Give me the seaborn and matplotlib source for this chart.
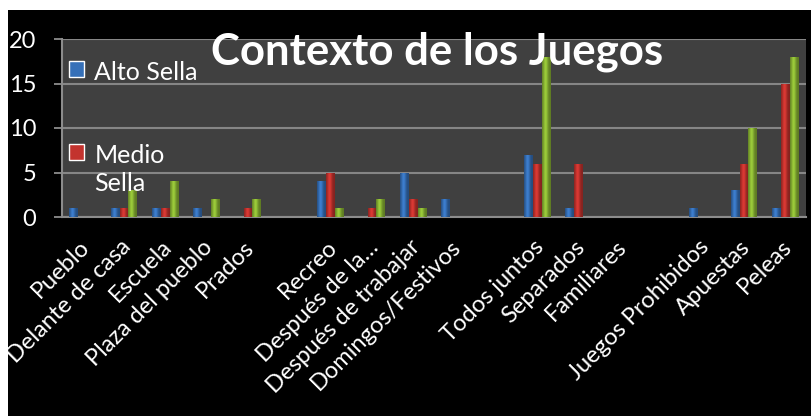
import numpy as np
import pandas as pd
import matplotlib
matplotlib.use("Agg")
import matplotlib.pyplot as plt
from matplotlib.patches import Rectangle
from matplotlib.transforms import ScaledTranslation
import matplotlib.colors as mcolors
import seaborn as sns

categories = ["Pueblo", "Delante de casa", "Escuela", "Plaza del pueblo", "Prados", " ",
              "Recreo", "Después de la…", "Después de trabajar", "Domingos/Festivos", "  ",
              "Todos juntos", "Separados", "Familiares", "   ",
              "Juegos Prohibidos", "Apuestas", "Peleas"]
alto_sella = [1, 1, 1, 1, 0, 0, 4, 0, 5, 2, 0, 7, 1, 0, 0, 1, 3, 1]
medio_sella = [0, 1, 1, 0, 1, 0, 5, 1, 2, 0, 0, 6, 6, 0, 0, 0, 6, 15]
bajo_sella = [0, 3, 4, 2, 2, 0, 1, 2, 1, 0, 0, 18, 0, 0, 0, 0, 10, 18]
series_names = ["Alto Sella", "Medio Sella", "Bajo Sella"]
legend_labels = ["Alto Sella", "Medio\nSella"]
y_ticks = [0, 5, 10, 15, 20]
title = "Contexto de los Juegos"

colors = ["#3670B8", "#C3332E", "#8AB534"]

df = pd.DataFrame({
    "categoria": categories * 3,
    "serie": sum([[s] * len(categories) for s in series_names], []),
    "valor": alto_sella + medio_sella + bajo_sella,
})

sns.set_theme(style="white")
plt.rcParams["font.family"] = ["Lato", "DejaVu Sans"]

W, H = 811, 416
fig = plt.figure(figsize=(W / 100, H / 100), dpi=100, facecolor="white")
fig.patches.append(Rectangle((8 / W, 0), 1, 1 - 10 / H, transform=fig.transFigure,
                             facecolor="black", edgecolor="none", zorder=-10))

ax = fig.add_axes([62 / W, 1 - 217 / H, (806 - 62) / W, (217 - 39) / H])
ax.set_facecolor("#404040")

sns.barplot(data=df, x="categoria", y="valor", hue="serie", order=categories,
            hue_order=series_names, palette=colors, saturation=1, width=0.64,
            ax=ax, legend=False, errorbar=None)

# cylinder-like shading on bars
for p in list(ax.patches):
    h = p.get_height()
    if h <= 0:
        continue
    x0, w = p.get_x(), p.get_width()
    base = np.array(mcolors.to_rgb(p.get_facecolor()))
    t = np.linspace(0, 1, 32)
    shade = 0.68 + 0.45 * np.exp(-((t - 0.4) / 0.28) ** 2)
    img = np.clip(base[None, :] * shade[:, None], 0, 1)[None, :, :]
    im = ax.imshow(img, extent=[x0, x0 + w, 0, h], aspect="auto", zorder=3,
                   interpolation="bilinear")
    im.set_clip_path(p)
    p.set_edgecolor("none")

n = len(categories)
ax.set_xlim(-0.5, n - 0.5)
ax.set_ylim(0, 20)
ax.set_yticks(y_ticks)
ax.set_yticklabels([str(v) for v in y_ticks], color="white", fontsize=17)
ax.set_xticks(range(n))
ax.set_xticklabels(categories, rotation=45, ha="right", va="center",
                   rotation_mode="anchor", color="white", fontsize=17)
ax.set_xticks(np.arange(-0.5, n, 1), minor=True)
ax.tick_params(axis="x", which="major", length=0, pad=12)
ax.tick_params(axis="x", which="minor", length=6, width=1.3, color="#8c8c8c", direction="out")
ax.tick_params(axis="y", length=6, width=1.3, color="#8c8c8c", direction="out", pad=12.5, left=True)
ax.set_xlabel("")
ax.set_ylabel("")

# shift category labels (after tick_params, which resets label transforms)
offset = ScaledTranslation(3 / 100, -10 / 100, fig.dpi_scale_trans)
for lab in ax.get_xticklabels():
    lab.set_transform(lab.get_transform() + offset)

ax.grid(axis="y", color="#868686", linewidth=1.5)
ax.set_axisbelow(True)
for s in ["top", "right"]:
    ax.spines[s].set_visible(False)
for s in ["left", "bottom"]:
    ax.spines[s].set_color("#8c8c8c")
    ax.spines[s].set_linewidth(1.5)

handles = [Rectangle((0, 0), 1, 1, facecolor=colors[0]), Rectangle((0, 0), 1, 1, facecolor=colors[1])]
leg = ax.legend(handles, legend_labels, loc="upper left", bbox_to_anchor=(0.01, 0.875),
                frameon=False, fontsize=18, handlelength=0.6, handleheight=0.6,
                handletextpad=0.4, labelspacing=2.4, borderpad=0, borderaxespad=0)
for t in leg.get_texts():
    t.set_color("white")
    t.set_linespacing(1.25)

def set_align(box):
    from matplotlib.offsetbox import HPacker, DrawingArea, TextArea
    for c in box.get_children():
        if isinstance(c, HPacker):
            ch = c.get_children()
            if len(ch) == 2 and isinstance(ch[0], DrawingArea) and isinstance(ch[1], TextArea):
                c.align = "top"
        if hasattr(c, "get_children"):
            set_align(c)

set_align(leg)

fig.text(437.5 / W, 1 - 65 / H, title, ha="center", va="baseline", color="white",
         fontsize=31.5, fontweight="bold")

fig.savefig("out.png", dpi=100, facecolor=fig.get_facecolor())
